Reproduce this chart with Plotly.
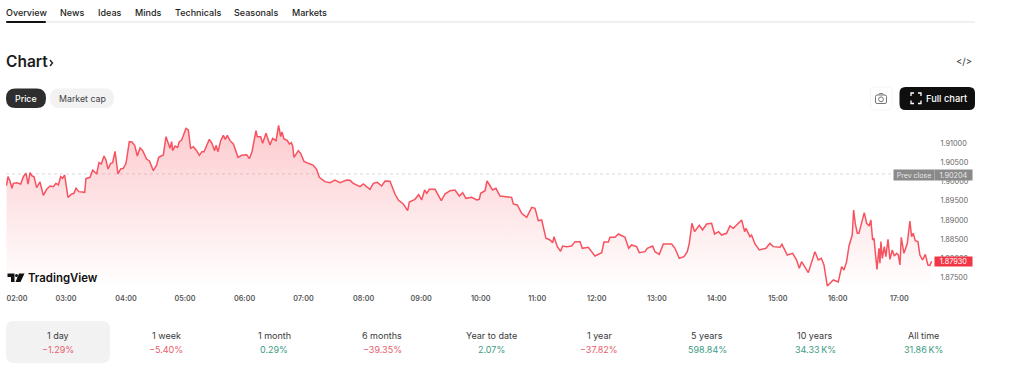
import plotly.graph_objects as go

W, H = 1024, 368

minutes = [0,1.5,3.5,5.5,6.9,10.3,14.3,17,19.7,21.7,23.7,25.7,27.7,30.4,33.8,37.1,40.5,43.9,47.2,49.9,52.3,54.6,56.6,58.6,62,65.7,68,70.1,72.8,78.8,80.1,84.2,86.9,90.9,93.2,95.6,98.3,100.3,102.3,105,107,109.4,112.4,115.1,117.8,120.5,123.8,126.5,129.2,131.9,134.6,137.3,141.3,144,148,151.4,153.4,158.1,160.8,164.8,166.5,167.5,169.9,172.5,174.2,176.6,180.9,183.3,185.6,188.3,191.7,194.4,197,199.1,204.5,207.1,209.8,211.2,213.2,215.9,218.6,220.6,222.6,225.3,228.7,233.4,237.1,242.1,244.8,247.5,251.5,252.8,256.2,258.2,261.6,265.6,268.3,271.7,274.3,276.4,277.7,279.7,283.1,285.1,287.1,288.5,289.8,294.2,296.5,299.9,304.3,309.3,312.6,315.3,321,326.1,331.1,336.2,
342.9,346.3,349.6,356.4,359.7,366.4,369.8,373.8,378.2,381.6,386.6,391.6,395,400,404.4,406.1,411.8,415.5,418.5,421.5,423.6,426.2,432,438.3,442,447.1,452.1,456.5,459.8,463.2,468.9,474,476.6,478,482.4,484.4,490.1,493.4,497.5,509.2,510.9,514.9,519.3,524.4,529.4,532.8,536.1,539.5,543.8,547.9,550.6,551.9,555.3,558.6,560.6,564.7,569.7,573.1,578.1,580.5,586.5,593.2,600,602.3,606.7,608.4,613.4,616.8,623.5,627.2,630.2,635.2,637.9,643.6,646,651.4,653.7,658.1,662.1,670.5,673.9,678.2,
683,686.3,688.3,691,693.7,698.4,701.7,705.8,710.8,713.8,717.9,720.9,725.9,729.3,732.7,736.7,741.1,744.1,745.4,749.5,751.1,754.5,758.9,765.6,769.6,773,779.7,781.7,787.1,792.5,796.5,799.2,801.5,808.3,815,818.3,821.4,824.1,827.4,833.5,838.5,841.9,844.2,846.9,849.3,852.6,854,855.6,857.7,859.3,862,864.7,867.1,869.7,871.4,873.1,874.5,877.5,879.5,880.5,881.5,882.9,884.9,886.5,888.6,890.6,892.9,895,897.3,899,900.7,902,904.7,908.1,910.7,912.4,914.1,916.1,918.8,920.8,923.5,926.2,928.9,930.9,932.6]

prices = [1.89897,1.90131,1.90019,1.89828,1.89958,1.89975,1.89940,1.90131,1.90218,1.89940,1.90236,1.90149,1.90131,1.89845,1.89993,1.89645,1.89802,1.89888,1.89871,1.89958,1.89914,1.90131,1.90088,1.90175,1.89593,1.89680,1.89697,1.89828,1.89741,1.89723,1.90079,1.90114,1.90305,1.90201,1.90496,1.90461,1.90670,1.90565,1.90331,1.90479,1.90496,1.90791,1.90201,1.90331,1.90348,1.90479,1.91043,1.91034,1.90947,1.90670,1.90878,1.90808,1.90583,1.90548,1.90288,1.90435,1.90635,1.90696,1.91173,1.90869,1.91043,1.90808,1.90930,1.90895,1.91043,1.91086,1.91390,1.91347,1.90869,1.90913,1.90808,1.90687,1.90782,1.90782,1.91104,1.90999,1.90808,1.90947,1.90782,1.91069,1.91208,1.91104,1.91208,1.91069,1.90982,1.90635,1.90687,1.90704,1.90600,1.90782,1.91329,1.91173,1.91173,1.90999,1.91260,1.90956,1.91130,1.91069,1.91468,1.91173,1.91295,1.91121,1.91069,1.90982,1.91017,1.90930,1.90635,1.90808,1.90739,1.90531,1.90479,1.90427,1.90322,1.90114,1.90001,1.89975,1.90045,1.89975,
1.90045,1.90036,1.89958,1.89871,1.89940,1.89802,1.89958,1.89984,1.89888,1.90019,1.90010,1.89680,1.89524,1.89420,1.89246,1.89472,1.89541,1.89663,1.89524,1.89784,1.89697,1.89802,1.89802,1.89506,1.89680,1.89767,1.89784,1.89628,1.89715,1.89567,1.89593,1.89524,1.89541,1.89697,1.89767,1.90019,1.89784,1.89828,1.89628,1.89593,1.89420,1.89394,1.89177,1.89072,1.89333,1.89307,1.88986,1.89003,1.88526,1.88482,1.88413,1.88569,1.88309,1.88187,1.88326,1.88309,1.88326,1.88439,1.88439,1.88265,1.88291,1.88066,1.88152,1.88430,1.88430,1.88552,1.88552,1.88638,1.88552,1.88265,1.88352,1.88309,1.88152,1.88178,1.88265,1.88326,1.88178,1.88109,1.88378,1.88378,1.88265,1.88005,
1.88048,1.88178,1.88395,1.88916,1.88699,1.88864,1.88743,1.88899,1.88916,1.88638,1.88699,1.88612,1.88656,1.88847,1.88786,1.88899,1.89003,1.88699,1.88786,1.88569,1.88612,1.88378,1.88222,1.88265,1.88395,1.88309,1.88291,1.88369,1.88092,1.88135,1.87961,1.87744,1.87918,1.87632,1.88178,1.87961,1.88005,1.87831,1.87284,1.87441,1.87389,1.87788,1.87701,1.87918,1.88326,1.88612,1.89263,1.88916,1.88656,1.88656,1.88960,1.89194,1.88916,1.88847,1.89003,1.88482,1.88526,1.87718,1.88265,1.87875,1.88439,1.88005,1.88309,1.88048,1.88500,1.87979,1.88222,1.88066,1.88135,1.88092,1.87831,1.88552,1.88135,1.88395,1.88977,1.88569,1.88656,1.88465,1.88439,1.88092,1.87961,1.88109,1.87831,1.87823,1.87930]

time_ticks = [10.6,60,120.5,180,240,299.4,360,418,478,535,595,655.7,716,777.6,838,900]
time_labels = ["02:00","03:00","04:00","05:00","06:00","07:00","08:00","09:00","10:00","11:00","12:00","13:00","14:00","15:00","16:00","17:00"]
price_ticks = [1.875,1.88,1.885,1.89,1.895,1.90,1.905,1.91]
prev_close = 1.90204
last_price = 1.87930

tabs = ["Overview","News","Ideas","Minds","Technicals","Seasonals","Markets"]
tab_x = [4,58,96,133,173,232,290]
periods = ["1 day","1 week","1 month","6 months","Year to date","1 year","5 years","10 years","All time"]
changes = ["−1.29%","−5.40%","0.29%","−39.35%","2.07%","−37.82%","598.84%","34.33\u202fK%","31.86\u202fK%"]
period_x = [58,166,274,382,491,599,707,815,923]

RED, GREEN = "#e8606c", "#3d9c84"
FONT = "Inter"

def px(x): return x / W
def py(y): return 1 - y / H

def rrect(x0, y0, x1, y1, r, fill, line=None, lw=0):
    a, b, c, d = px(x0), py(y0), px(x1), py(y1)
    rx, ry = r / W, r / H
    p = (f"M {a+rx} {b} L {c-rx} {b} Q {c} {b} {c} {b-ry} L {c} {d+ry} Q {c} {d} {c-rx} {d} "
         f"L {a+rx} {d} Q {a} {d} {a} {d+ry} L {a} {b-ry} Q {a} {b} {a+rx} {b} Z")
    return dict(type="path", xref="paper", yref="paper", path=p, fillcolor=fill,
                line=dict(color=line or fill, width=lw), layer="above")

def poly(pts, fill=None, line=None, lw=1):
    p = "M " + " L ".join(f"{px(x)} {py(y)}" for x, y in pts)
    if fill:
        p += " Z"
    return dict(type="path", xref="paper", yref="paper", path=p,
                fillcolor=fill or "rgba(0,0,0,0)",
                line=dict(color=line or "rgba(0,0,0,0)", width=lw if line else 0), layer="above")

def label(x, y, t, size=10, color="#333333", weight=400, anchor="center", bg=None, w=None, h=None):
    d = dict(xref="paper", yref="paper", x=px(x), y=py(y), text=t, showarrow=False,
             xanchor=anchor, yanchor="middle", font=dict(family=FONT, size=size, color=color, weight=weight))
    if bg:
        d.update(bgcolor=bg, width=w, height=h, borderpad=0)
    return d

fig = go.Figure(go.Scatter(
    x=minutes, y=prices, mode="lines", fill="tozeroy",
    line=dict(color="#f7525f", width=1.5),
    fillgradient=dict(type="vertical", start=1.8725, stop=1.9147,
                      colorscale=[[0, "rgba(247,82,95,0)"], [1, "rgba(247,82,95,0.30)"]]),
    hoverinfo="skip"))

shapes = [
    rrect(6, 21, 975, 23, 0, "#f0f0f0"),
    rrect(6, 21, 46, 23, 1, "#111111"),
    rrect(6, 88.5, 46, 108, 9.5, "#2e2e2e"),
    rrect(50, 88.5, 114, 108, 9.5, "#f2f2f2"),
    rrect(870.5, 87, 892, 110, 5, "#ffffff", "#f4f4f4", 1),
    rrect(899.5, 87, 975, 110, 6, "#0f0f0f"),
    rrect(875.5, 95, 886.5, 103.5, 1.5, "#ffffff", "#777777", 1),
    dict(type="circle", xref="paper", yref="paper", x0=px(878.6), x1=px(883.4), y0=py(101.7), y1=py(96.9),
         line=dict(color="#777777", width=1), layer="above"),
    poly([(878.5, 95), (879.5, 93.5), (882.5, 93.5), (883.5, 95)], None, "#777777", 1),
    poly([(911, 96), (911, 93), (914, 93)], None, "#ffffff", 1.3),
    poly([(918, 93), (921, 93), (921, 96)], None, "#ffffff", 1.3),
    poly([(911, 100.5), (911, 103.5), (914, 103.5)], None, "#ffffff", 1.3),
    poly([(918, 103.5), (921, 103.5), (921, 100.5)], None, "#ffffff", 1.3),
    rrect(6, 321, 110, 363, 8, "#f2f2f2"),
    poly([(7.5, 273.5), (14.5, 273.5), (14.5, 282), (11, 282), (11, 277), (7.5, 277)], "#111111"),
    poly([(19, 273.5), (24.5, 273.5), (20.5, 282), (15.5, 282)], "#111111"),
    dict(type="circle", xref="paper", yref="paper", x0=px(15), x1=px(18), y0=py(277), y1=py(274),
         fillcolor="#111111", line=dict(width=0), layer="above"),
    dict(type="line", xref="paper", yref="y", x0=px(6), x1=px(894), y0=prev_close, y1=prev_close,
         line=dict(color="#dadada", width=1, dash="dot"), layer="below"),
    poly([(50, 60), (52.5, 63), (50, 66)], None, "#222222", 1.4),
]

anns = []
for t, x in zip(tabs, tab_x):
    anns.append(label(x, 12, t, 9, "#1c1c1c", 500, "left"))
anns += [
    label(4, 62, "Chart", 15.5, "#1c1c1c", 600, "left"),
    label(25.5, 98.5, "Price", 8.8, "#ffffff", 500),
    label(82, 98.5, "Market cap", 8.8, "#444444", 400),
    label(946.5, 98.5, "Full chart", 9.3, "#ffffff", 500),
    label(964, 61, "&lt;/&gt;", 9.5, "#333333", 400),
    label(26, 277.5, "TradingView", 11.4, "#111111", 600, "left"),
    label(914, 175, "Prev close", 7, "#e8e8e8", 400, bg="#8a8a8a", w=40, h=10),
    label(953.5, 175, f"{prev_close:.5f}", 7.3, "#e8e8e8", 400, bg="#8a8a8a", w=37, h=10),
    label(953.5, 261.5, f"{last_price:.5f}", 7.3, "#ffffff", 400, bg="#f23645", w=37, h=9),
]
for p, c, x in zip(periods, changes, period_x):
    anns.append(label(x, 335.7, p, 9, "#3a3a3a", 400))
    anns.append(label(x, 349.3, c, 9, GREEN if not c.startswith("−") else RED, 400))

fig.update_layout(
    width=W, height=H, margin=dict(l=0, r=0, t=0, b=0),
    paper_bgcolor="#ffffff", plot_bgcolor="#ffffff", showlegend=False,
    hovermode=False, shapes=shapes, annotations=anns,
    xaxis=dict(domain=[px(6), px(934)], range=[-0.5, 935], tickvals=time_ticks, ticktext=time_labels,
               showgrid=False, zeroline=False, showline=False, ticks="outside", ticklen=3, tickcolor="#ffffff",
               tickfont=dict(family=FONT, size=7.2, color="#555555", weight=600)),
    yaxis=dict(domain=[py(288), py(120)], range=[1.87232, 1.91607], side="right",
               tickvals=price_ticks, tickformat=".5f", showgrid=False, zeroline=False, showline=False,
               ticks="outside", ticklen=4, tickcolor="#ffffff",
               tickfont=dict(family=FONT, size=7.3, color="#666666")),
)
fig.write_html("out.html", config=dict(displayModeBar=False),
               post_script="document.body.style.margin='0';document.documentElement.style.overflow='hidden';")
